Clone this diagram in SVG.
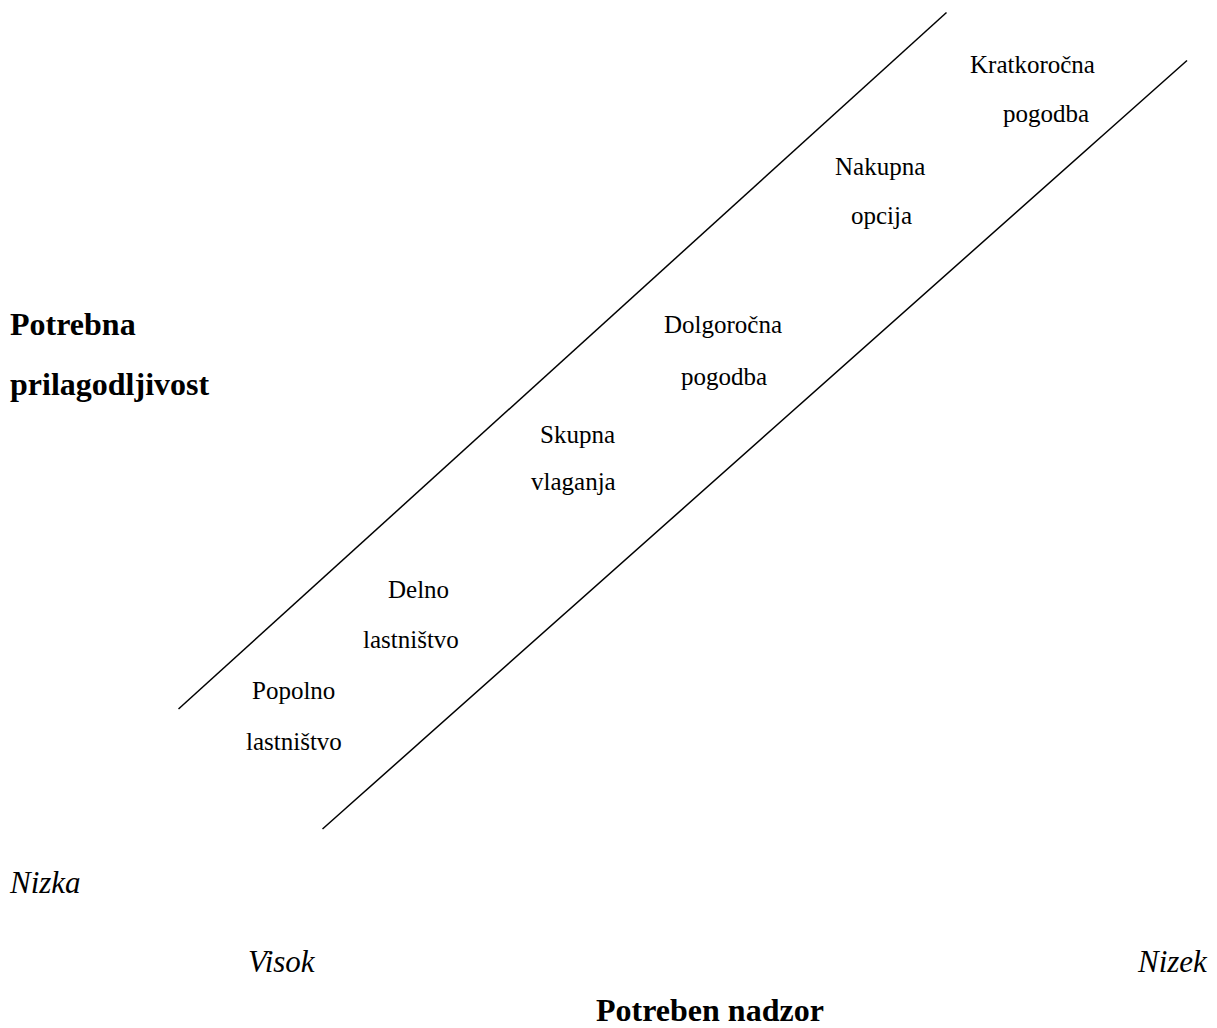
<svg xmlns="http://www.w3.org/2000/svg" width="1217" height="1028" viewBox="0 0 1217 1028">
<style>
text{font-family:"Liberation Serif","Times New Roman",serif;fill:#000}
.r{font-size:25px}
.b{font-size:32px;font-weight:bold}
.i{font-size:31px;font-style:italic}
.ln{stroke:#000;stroke-width:1.5;fill:none}
</style>
<rect width="1217" height="1028" fill="#fff"/>
<g id="connectors">
<line class="ln" x1="178.5" y1="709" x2="946.5" y2="12.5"/>
<line class="ln" x1="322.5" y1="829" x2="1187" y2="60.5"/>
</g>
<g id="kratkorocna"><text class="r" x="970" y="73">Kratkoročna</text><text class="r" x="1003" y="122">pogodba</text></g>
<g id="nakupna"><text class="r" x="835" y="175">Nakupna</text><text class="r" x="851" y="224">opcija</text></g>
<g id="dolgorocna"><text class="r" x="664" y="333">Dolgoročna</text><text class="r" x="681" y="385">pogodba</text></g>
<g id="skupna"><text class="r" x="540" y="443">Skupna</text><text class="r" x="531" y="490">vlaganja</text></g>
<g id="delno"><text class="r" x="388" y="598">Delno</text><text class="r" x="363" y="648">lastništvo</text></g>
<g id="popolno"><text class="r" x="252" y="699">Popolno</text><text class="r" x="246" y="750">lastništvo</text></g>
<g id="y-axis"><text class="b" x="10" y="335">Potrebna</text><text class="b" x="10" y="395">prilagodljivost</text></g>
<g id="y-low"><text class="i" x="10" y="893">Nizka</text></g>
<g id="x-high"><text class="i" x="248" y="972">Visok</text></g>
<g id="x-low"><text class="i" x="1138" y="972">Nizek</text></g>
<g id="x-axis"><text class="b" x="596" y="1021">Potreben nadzor</text></g>
</svg>
